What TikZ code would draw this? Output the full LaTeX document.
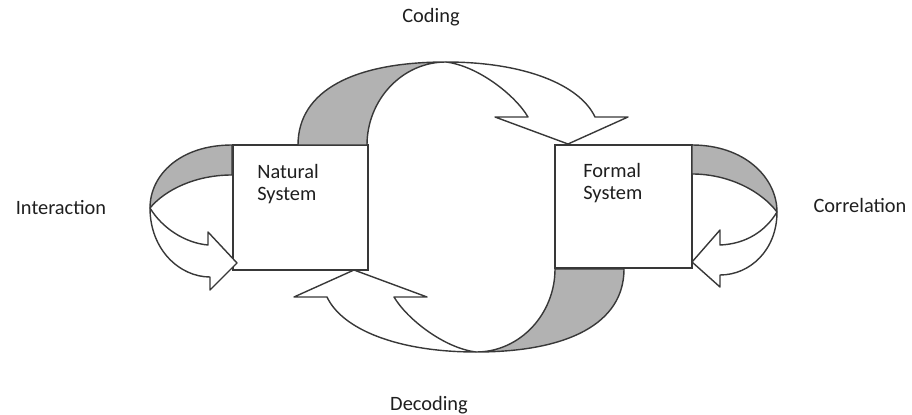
\documentclass[tikz,border=0pt]{standalone}
\usepackage{fontspec}
\setmainfont{Carlito}
\begin{document}
\begin{tikzpicture}[x=0.02cm, y=-0.02cm,
    band/.style={draw=black!78, line width=0.8pt, line join=round},
    back/.style={band, fill=black!30},
    front/.style={band, fill=white},
    sysbox/.style={draw=black!78, line width=0.8pt, fill=white, inner sep=0pt},
    lbl/.style={text=black!88, font=\fontsize{11.6}{12.5}\selectfont, inner sep=0pt},
    syslbl/.style={lbl, align=left, anchor=west, font=\fontsize{11.6}{12.8}\selectfont}]
  \useasboundingbox (0,0) rectangle (912,415);

  % the two systems
  \node[sysbox, minimum width=2.7cm, minimum height=2.5cm] (nat) at (300.5,207.5) {};
  \node[sysbox, minimum width=2.74cm, minimum height=2.46cm] (form) at (623.5,206.5) {};

  % ribbon arrow from the natural to the formal system (over the top);
  % the same ribbon turned half round gives the return arrow underneath
  \foreach \turn in {0,180} {
    \begin{scope}[rotate around={\turn:(461,207)}]
      \path[back] (298,145) .. controls (298,90) and (355,62) .. (446,62)
        .. controls (402,62) and (367,100) .. (367,145) -- cycle;
      \path[front] (446,62) .. controls (525,62) and (580,85) .. (595,117)
        -- (628,117) -- (568,144) -- (495,117) -- (528,117)
        .. controls (515,95) and (478,66) .. (446,62) -- cycle;
    \end{scope}
  }

  % loop on the natural system
  \path[back] (232,145) .. controls (180,145) and (150,175) .. (150,208)
    .. controls (165,190) and (195,175) .. (232,175) -- cycle;
  \path[front] (150,208) .. controls (150,250) and (180,277) .. (210,277)
    -- (210,290) -- (237,263) -- (208,232) -- (208,245)
    .. controls (185,243) and (162,228) .. (150,208) -- cycle;

  % loop on the formal system
  \path[back] (692,145) .. controls (745,145) and (777,178) .. (777,212)
    .. controls (762,192) and (730,174) .. (692,174) -- cycle;
  \path[front] (777,212) .. controls (777,250) and (750,275) .. (720,275)
    -- (720,287) -- (692,262) -- (720,230) -- (720,245)
    .. controls (745,244) and (765,232) .. (777,212) -- cycle;

  % texts
  \node[syslbl] (natlbl) at (257,184) {Natural\\System};
  \node[syslbl] (formlbl) at (583,183) {Formal\\System};
  \node[lbl] (coding) at (431,17) {Coding};
  \node[lbl] (decoding) at (429,405) {Decoding};
  \node[lbl] (interaction) at (61,208) {Interaction};
  \node[lbl] (correlation) at (860,205) {Correlation};
\end{tikzpicture}
\end{document}
